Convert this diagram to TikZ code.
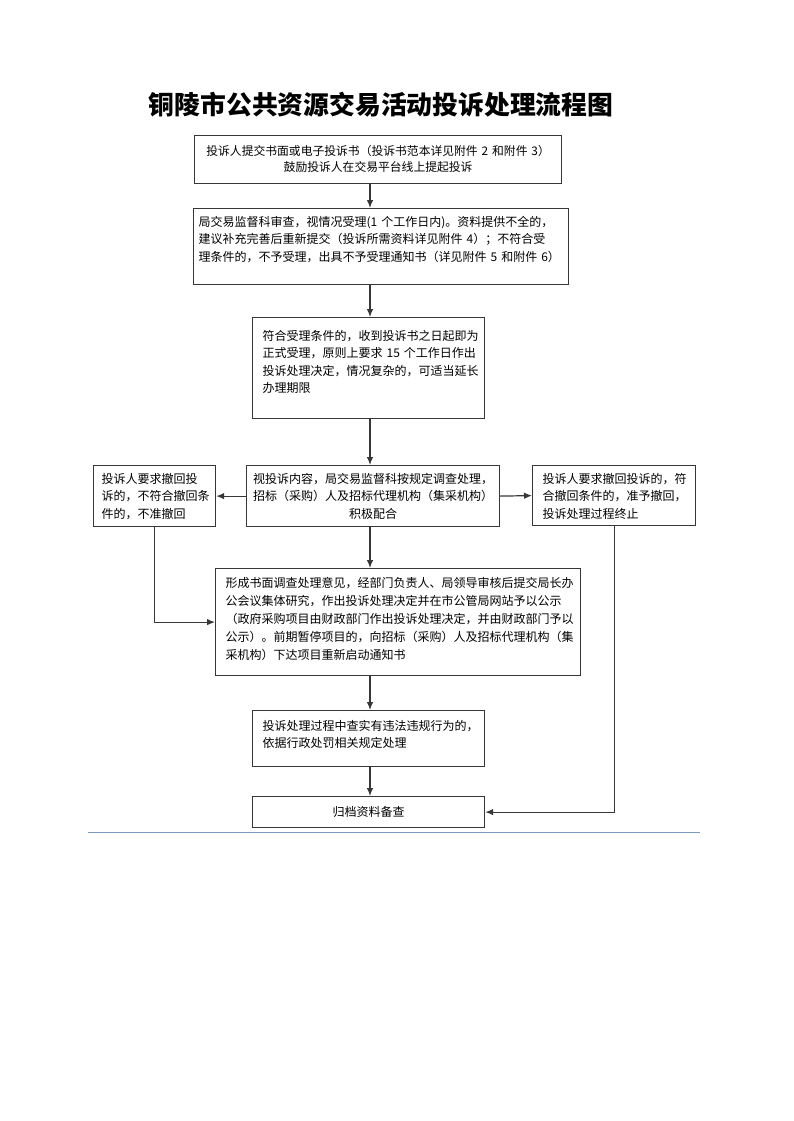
\documentclass[tikz,border=0pt]{standalone}
\usepackage{fontspec}
\setmainfont{Noto Sans CJK SC}
\usetikzlibrary{arrows.meta}
\definecolor{linegray}{RGB}{55,55,55}
\definecolor{ruleblue}{RGB}{122,154,196}
\tikzset{
  box/.style={draw=linegray, line width=1.2pt, anchor=north west, inner ysep=0pt,
    inner xsep=9pt, font=\fontsize{12}{17.5}\selectfont},
  flow/.style={draw=linegray, line width=1.2pt, -{Latex[length=8pt,width=6.5pt]}},
}
\begin{document}
\begin{tikzpicture}[x=1pt,y=-1pt]
      \fill[white] (0,0) rectangle (793,1121);
      \useasboundingbox (0,0) rectangle (793,1121);
      \node[font=\fontsize{25.8}{30}\selectfont\bfseries] (title) at (381,105) {铜陵市公共资源交易活动投诉处理流程图};
      \node[box, align=center, inner xsep=4pt, font=\fontsize{11.8}{17}\selectfont, text width=359pt, text height=19.4pt, text depth=28.6pt] (0) at (194,135)
        {投诉人提交书面或电子投诉书（投诉书范本详见附件~2~和附件~3）\\鼓励投诉人在交易平台线上提起投诉};
      \node[box, align=left, inner xsep=5pt, text width=365pt, text height=17.4pt, text depth=58.6pt] (1) at (193,208)
        {局交易监督科审查，视情况受理(1~个工作日内)。资料提供不全的，\\建议补充完善后重新提交（投诉所需资料详见附件~4）；不符合受\\理条件的，不予受理，出具不予受理通知书（详见附件~5~和附件~6）};
      \node[box, align=left, inner xsep=10pt, text width=212pt, text height=22.4pt, text depth=78.6pt] (2) at (252,317)
        {符合受理条件的，收到投诉书之日起即为\\正式受理，原则上要求~15~个工作日作出\\投诉处理决定，情况复杂的，可适当延长\\办理期限};
      \node[box, align=center, inner xsep=6pt, text width=241pt, text height=17.4pt, text depth=43.6pt] (3) at (246,465)
        {视投诉内容，局交易监督科按规定调查处理，\\招标（采购）人及招标代理机构（集采机构）\\积极配合};
      \node[box, align=left, inner xsep=8pt, text width=106pt, text height=17.4pt, text depth=43.6pt] (4) at (93,465)
        {投诉人要求撤回投\\诉的，不符合撤回条\\件的，不准撤回};
      \node[box, align=left, inner xsep=10pt, text width=143pt, text height=17.4pt, text depth=42.6pt] (5) at (532,465)
        {投诉人要求撤回投诉的，符\\合撤回条件的，准予撤回，\\投诉处理过程终止};
      \node[box, align=left, inner xsep=10pt, font=\fontsize{12}{18}\selectfont, text width=345pt, text height=18.4pt, text depth=88.6pt] (6) at (215,568)
        {形成书面调查处理意见，经部门负责人、局领导审核后提交局长办\\公会议集体研究，作出投诉处理决定并在市公管局网站予以公示\\（政府采购项目由财政部门作出投诉处理决定，并由财政部门予以\\公示）。前期暂停项目的，向招标（采购）人及招标代理机构（集\\采机构）下达项目重新启动通知书};
      \node[box, align=left, inner xsep=10pt, text width=212pt, text height=19.4pt, text depth=36.6pt] (7) at (252,710)
        {投诉处理过程中查实有违法违规行为的，\\依据行政处罚相关规定处理};
      \node[box, align=center, text width=214pt, text height=19.4pt, text depth=11.6pt] (8) at (252,796)
        {归档资料备查};
      \coordinate (spine) at (370,0);
      \coordinate (ruleL) at (88,832);
      \coordinate (ruleR) at (700,832);
      \begin{scope}[flow]
        \draw (0.south -| spine) to (1.north -| spine);
        \draw (1.south -| spine) to (2.north -| spine);
        \draw (2.south -| spine) to (3.north -| spine);
        \draw (3.west) to (4.east);
        \draw (3.east) to (5.west);
        \draw (3.south -| spine) to (6.north -| spine);
        \draw (6.south -| spine) to (7.north -| spine);
        \draw (7.south -| spine) to (8.north -| spine);
        \draw (4.south) |- (6.west);
        \draw (5.south) |- (8.east);
      \end{scope}
      \draw[ruleblue, line width=1pt] (ruleL) -- (ruleR);
    \end{tikzpicture}
\end{document}
